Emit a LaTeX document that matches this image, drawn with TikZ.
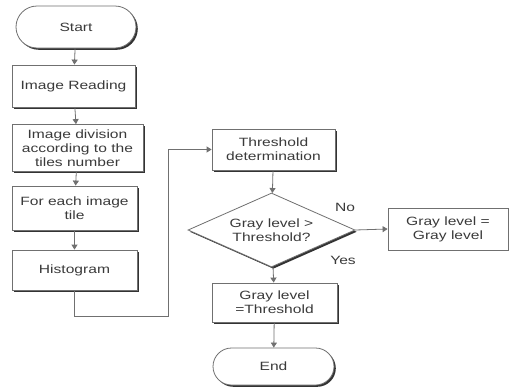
\documentclass[tikz,border=0pt]{standalone}
\usepackage{fontspec}
\setmainfont{Liberation Sans}[FakeStretch=1.3]
\usetikzlibrary{shapes.misc,shapes.geometric,shadows,arrows.meta}
\definecolor{linec}{HTML}{707070}
\definecolor{txtc}{HTML}{3A3A3A}
\tikzset{
  sh/.style={drop shadow={shadow xshift=1.8pt,shadow yshift=-1.8pt,fill=black!80,opacity=1}},
  base/.style={draw=linec,line width=0.8pt,fill=white,text=txtc,align=center,inner sep=1pt,
    font=\fontsize{12}{14}\selectfont},
  procbox/.style={base,sh,rectangle},
  plainbox/.style={base,rectangle},
  term/.style={base,sh,rounded rectangle},
  decis/.style={base,sh,diamond,aspect=2.26,inner sep=0pt},
  conn/.style={draw=linec,line width=0.8pt,-{Triangle[width=6pt,length=5pt]}},
  lbl/.style={text=txtc,font=\fontsize{12}{14}\selectfont}
}
\begin{document}
\begin{tikzpicture}[x=1pt,y=-1pt]
\useasboundingbox[fill=white] (0,0) rectangle (509,391);
\node[term,minimum width=122pt,minimum height=42pt] (start) at (76,27) {Start};
\node[procbox,minimum width=123pt,minimum height=42pt] (read) at (73.5,86) {Image Reading};
\node[procbox,minimum width=131pt,minimum height=47pt] (div) at (77.5,148) {Image division\\according to the\\tiles number};
\node[procbox,minimum width=125pt,minimum height=44pt] (each) at (74.5,208) {For each image\\tile};
\node[procbox,minimum width=125pt,minimum height=40pt] (hist) at (74.5,270) {Histogram};
\node[procbox,minimum width=123pt,minimum height=41pt] (thr) at (273.5,149.5) {Threshold\\determination};
\node[decis,minimum width=167pt,minimum height=74pt] (dec) at (271.5,230) {Gray level >\\Threshold?};
\node[plainbox,minimum width=120pt,minimum height=42pt] (gg) at (448,229) {Gray level =\\Gray level};
\node[procbox,minimum width=125pt,minimum height=39pt] (gt) at (274.5,302.5) {Gray level\\=Threshold};
\node[term,minimum width=123pt,minimum height=37pt] (end) at (273.5,366.5) {End};
\coordinate (c1) at (74.5,316);
\coordinate (c2) at (168,316);
\coordinate (c3) at (168,149.5);
\draw[conn] (start) -- (read);
\draw[conn] (read) -- (div);
\draw[conn] (div) -- (each);
\draw[conn] (each) -- (hist);
\draw[conn] (hist.south) -- (c1) -- (c2) -- (c3) -- (thr.west);
\draw[conn] (thr) -- (dec);
\draw[conn] (dec.east) -- (gg.west);
\draw[conn] (dec) -- (gt);
\draw[conn] (gt) -- (end);
\node[lbl] (no) at (345,207) {No};
\node[lbl] (yes) at (343,260) {Yes};
\end{tikzpicture}
\end{document}
